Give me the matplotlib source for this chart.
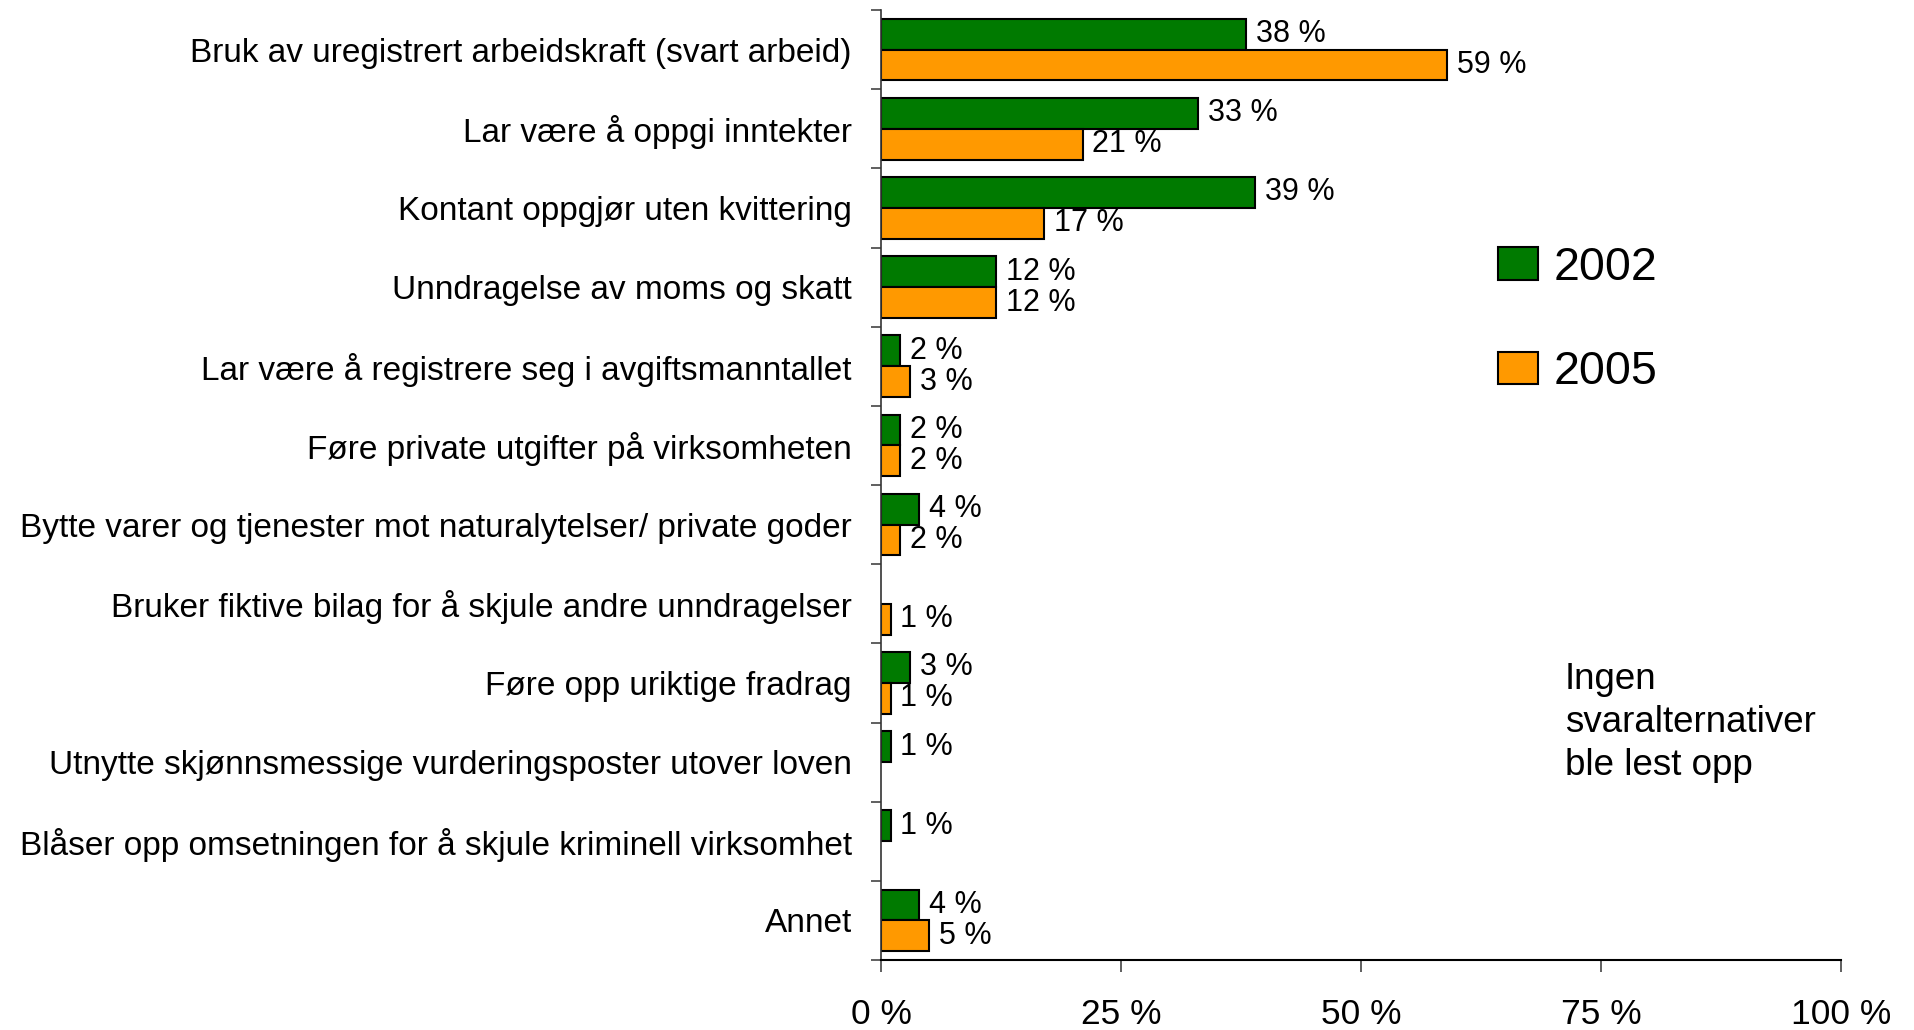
import numpy as np
import matplotlib
matplotlib.use("Agg")
import matplotlib.pyplot as plt

categories = [
    "Bruk av uregistrert arbeidskraft (svart arbeid)",
    "Lar være å oppgi inntekter",
    "Kontant oppgjør uten kvittering",
    "Unndragelse av moms og skatt",
    "Lar være å registrere seg i avgiftsmanntallet",
    "Føre private utgifter på virksomheten",
    "Bytte varer og tjenester mot naturalytelser/ private goder",
    "Bruker fiktive bilag for å skjule andre unndragelser",
    "Føre opp uriktige fradrag",
    "Utnytte skjønnsmessige vurderingsposter utover loven",
    "Blåser opp omsetningen for å skjule kriminell virksomhet",
    "Annet",
]
values_2002 = [38, 33, 39, 12, 2, 2, 4, np.nan, 3, 1, 1, 4]
values_2005 = [59, 21, 17, 12, 3, 2, 2, 1, 1, np.nan, np.nan, 5]
series_names = ["2002", "2005"]
xticks = [0, 25, 50, 75, 100]
xtick_labels = ["0 %", "25 %", "50 %", "75 %", "100 %"]
note = "Ingen\nsvaralternativer\nble lest opp"

plt.rcParams["font.family"] = ["Liberation Sans", "DejaVu Sans"]

W, H = 1914, 1030
fig = plt.figure(figsize=(W / 100, H / 100), dpi=100)
ax = fig.add_axes([881 / W, 70 / H, (1841 - 881) / W, (1020 - 70) / H])

green = "#007A00"
orange = "#FF9900"
y = np.arange(len(categories))
h = 0.39
b1 = ax.barh(y - h / 2, values_2002, height=h, color=green, edgecolor="black",
             linewidth=1.5, label=series_names[0])
b2 = ax.barh(y + h / 2, values_2005, height=h, color=orange, edgecolor="black",
             linewidth=1.5, label=series_names[1])

for bars, vals in ((b1, values_2002), (b2, values_2005)):
    for rect, v in zip(bars, vals):
        if np.isnan(v):
            continue
        ax.annotate(f"{v:.0f} %", xy=(v, rect.get_y() + rect.get_height() / 2),
                    xytext=(7, 0), textcoords="offset points",
                    ha="left", va="center", fontsize=22, color="black")

ax.set_xlim(0, 100)
ax.set_ylim(len(categories) - 0.5, -0.5)
ax.set_xticks(xticks)
ax.set_xticklabels(xtick_labels, fontsize=25.5)
ax.set_yticks(y)
ax.set_yticklabels(categories, fontsize=24)
ax.set_yticks(np.arange(len(categories) + 1) - 0.5, minor=True)
ax.tick_params(axis="y", which="major", length=0, pad=21)
ax.tick_params(axis="y", which="minor", length=7, width=1.2, color="#444444")
ax.tick_params(axis="x", which="major", length=8.5, width=1.2, color="#444444", pad=18.5)

for s in ("top", "right"):
    ax.spines[s].set_visible(False)
ax.spines["left"].set_linewidth(1.2)
ax.spines["bottom"].set_linewidth(1.5)
ax.spines["left"].set_color("#333333")
ax.spines["bottom"].set_color("black")

ax.legend(handles=[b1, b2], loc="center left",
          bbox_to_anchor=(1498 / W, 1 - 320 / H), bbox_transform=fig.transFigure,
          frameon=False, fontsize=33.5, handlelength=0.85, handleheight=0.7,
          handletextpad=0.35, labelspacing=1.3, borderpad=0, borderaxespad=0)

fig.text(1565 / W, 1 - 722.5 / H, note, fontsize=26.5, ha="left", va="center",
         linespacing=1.29)

fig.savefig("out.png", dpi=100)
